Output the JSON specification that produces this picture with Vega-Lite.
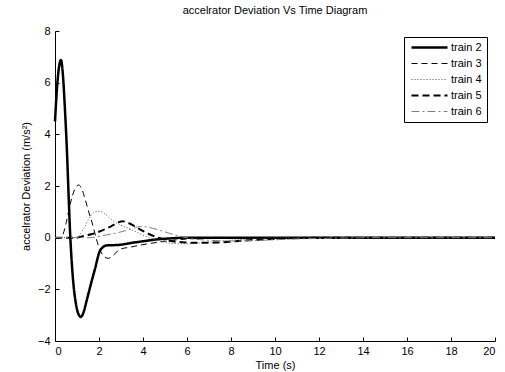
{
  "$schema": "https://vega.github.io/schema/vega-lite/v6.json",
  "width": 440,
  "height": 310,
  "autosize": {"type": "none"},
  "padding": {"left": 55, "top": 31, "right": 10, "bottom": 31},
  "background": "white",
  "title": {"text": "accelrator Deviation Vs Time Diagram", "fontSize": 11, "fontWeight": "normal", "font": "Liberation Sans", "color": "black", "offset": 9, "anchor": "middle"},
  "config": {
    "view": {"stroke": null},
    "axis": {"grid": false, "domainColor": "black", "tickColor": "black", "labelColor": "black", "titleColor": "black", "labelFont": "Liberation Sans", "titleFont": "Liberation Sans", "labelFontSize": 11, "titleFontSize": 11, "titleFontWeight": "normal", "tickSize": -4},
    "legend": {"fillColor": "white", "strokeColor": "black", "padding": 5, "labelFont": "Liberation Sans", "labelFontSize": 11, "labelColor": "black", "symbolType": "M-1.5,0H16.5", "symbolSize": 16, "labelOffset": 31, "rowPadding": 4}
  },
  "data": {"values": [
    {"s":"train 2","t":0,"v":4.5},{"s":"train 2","t":0.1,"v":5.9},{"s":"train 2","t":0.2,"v":6.7},{"s":"train 2","t":0.27,"v":6.88},{"s":"train 2","t":0.35,"v":6.4},{"s":"train 2","t":0.45,"v":5.0},{"s":"train 2","t":0.55,"v":3.2},{"s":"train 2","t":0.62,"v":1.6},{"s":"train 2","t":0.68,"v":0.3},{"s":"train 2","t":0.75,"v":-0.8},{"s":"train 2","t":0.85,"v":-1.9},{"s":"train 2","t":0.95,"v":-2.55},{"s":"train 2","t":1.05,"v":-2.92},{"s":"train 2","t":1.18,"v":-3.07},{"s":"train 2","t":1.3,"v":-2.88},{"s":"train 2","t":1.45,"v":-2.4},{"s":"train 2","t":1.6,"v":-1.9},{"s":"train 2","t":1.82,"v":-1.2},{"s":"train 2","t":2.05,"v":-0.5},{"s":"train 2","t":2.35,"v":-0.3},{"s":"train 2","t":2.9,"v":-0.28},{"s":"train 2","t":3.5,"v":-0.2},{"s":"train 2","t":4.0,"v":-0.14},{"s":"train 2","t":4.6,"v":-0.07},{"s":"train 2","t":5.2,"v":-0.03},{"s":"train 2","t":6,"v":0},{"s":"train 2","t":20,"v":0},
    {"s":"train 3","t":0,"v":0},{"s":"train 3","t":0.25,"v":0},{"s":"train 3","t":0.35,"v":0.1},{"s":"train 3","t":0.5,"v":0.55},{"s":"train 3","t":0.7,"v":1.33},{"s":"train 3","t":0.9,"v":1.88},{"s":"train 3","t":1.08,"v":2.04},{"s":"train 3","t":1.22,"v":1.88},{"s":"train 3","t":1.38,"v":1.46},{"s":"train 3","t":1.55,"v":0.95},{"s":"train 3","t":1.68,"v":0.6},{"s":"train 3","t":1.85,"v":0.05},{"s":"train 3","t":2.0,"v":-0.38},{"s":"train 3","t":2.2,"v":-0.7},{"s":"train 3","t":2.42,"v":-0.8},{"s":"train 3","t":2.65,"v":-0.68},{"s":"train 3","t":2.95,"v":-0.45},{"s":"train 3","t":3.4,"v":-0.37},{"s":"train 3","t":4.0,"v":-0.27},{"s":"train 3","t":4.9,"v":-0.15},{"s":"train 3","t":5.6,"v":-0.08},{"s":"train 3","t":6.5,"v":-0.03},{"s":"train 3","t":7.5,"v":0},{"s":"train 3","t":20,"v":0},
    {"s":"train 4","t":0,"v":0},{"s":"train 4","t":0.9,"v":0},{"s":"train 4","t":1.1,"v":0.08},{"s":"train 4","t":1.3,"v":0.35},{"s":"train 4","t":1.55,"v":0.75},{"s":"train 4","t":1.83,"v":1.0},{"s":"train 4","t":2.05,"v":1.02},{"s":"train 4","t":2.25,"v":0.93},{"s":"train 4","t":2.6,"v":0.68},{"s":"train 4","t":3.0,"v":0.48},{"s":"train 4","t":3.35,"v":0.36},{"s":"train 4","t":3.7,"v":0.22},{"s":"train 4","t":4.0,"v":0.1},{"s":"train 4","t":4.3,"v":0},{"s":"train 4","t":4.8,"v":-0.14},{"s":"train 4","t":5.3,"v":-0.22},{"s":"train 4","t":5.9,"v":-0.24},{"s":"train 4","t":6.6,"v":-0.2},{"s":"train 4","t":7.5,"v":-0.13},{"s":"train 4","t":8.5,"v":-0.07},{"s":"train 4","t":9.5,"v":-0.03},{"s":"train 4","t":10.5,"v":0},{"s":"train 4","t":20,"v":0},
    {"s":"train 5","t":0,"v":0},{"s":"train 5","t":1.0,"v":0},{"s":"train 5","t":1.3,"v":0.07},{"s":"train 5","t":1.65,"v":0.13},{"s":"train 5","t":2.0,"v":0.23},{"s":"train 5","t":2.5,"v":0.42},{"s":"train 5","t":2.9,"v":0.6},{"s":"train 5","t":3.05,"v":0.64},{"s":"train 5","t":3.3,"v":0.58},{"s":"train 5","t":3.7,"v":0.4},{"s":"train 5","t":4.2,"v":0.17},{"s":"train 5","t":4.7,"v":0},{"s":"train 5","t":5.2,"v":-0.12},{"s":"train 5","t":5.8,"v":-0.18},{"s":"train 5","t":6.5,"v":-0.2},{"s":"train 5","t":7.3,"v":-0.19},{"s":"train 5","t":8.2,"v":-0.14},{"s":"train 5","t":9.2,"v":-0.08},{"s":"train 5","t":10.2,"v":-0.04},{"s":"train 5","t":11.2,"v":-0.01},{"s":"train 5","t":12,"v":0},{"s":"train 5","t":20,"v":0},
    {"s":"train 6","t":0,"v":0},{"s":"train 6","t":1.6,"v":0},{"s":"train 6","t":1.85,"v":0.03},{"s":"train 6","t":2.3,"v":0.1},{"s":"train 6","t":2.8,"v":0.18},{"s":"train 6","t":3.2,"v":0.27},{"s":"train 6","t":3.55,"v":0.36},{"s":"train 6","t":3.86,"v":0.43},{"s":"train 6","t":4.2,"v":0.41},{"s":"train 6","t":4.7,"v":0.3},{"s":"train 6","t":5.2,"v":0.17},{"s":"train 6","t":5.8,"v":0.03},{"s":"train 6","t":6.3,"v":-0.05},{"s":"train 6","t":7.0,"v":-0.1},{"s":"train 6","t":8.0,"v":-0.13},{"s":"train 6","t":9.0,"v":-0.11},{"s":"train 6","t":10.0,"v":-0.08},{"s":"train 6","t":11.0,"v":-0.05},{"s":"train 6","t":12.0,"v":-0.03},{"s":"train 6","t":13.5,"v":-0.01},{"s":"train 6","t":14.5,"v":0},{"s":"train 6","t":20,"v":0}
  ]},
  "mark": {"type": "line", "interpolate": "monotone", "strokeCap": "butt"},
  "encoding": {
    "x": {"field": "t", "type": "quantitative", "scale": {"domain": [0, 20], "nice": false}, "axis": {"values": [0,2,4,6,8,10,12,14,16,18,20], "title": "Time (s)", "labelPadding": 8, "titlePadding": 3}},
    "y": {"field": "v", "type": "quantitative", "scale": {"domain": [-4, 8], "nice": false}, "axis": {"values": [-4,-2,0,2,4,6,8], "title": "accelrator Deviation (m/s²)", "labelPadding": 9, "titlePadding": 6}},
    "color": {"field": "s", "type": "nominal", "scale": {"domain": ["train 2","train 3","train 4","train 5","train 6"], "range": ["#000000","#000000","#555555","#000000","#808080"]}, "legend": {"title": null, "orient": "none", "legendX": 349, "legendY": 6}},
    "strokeDash": {"field": "s", "type": "nominal", "scale": {"domain": ["train 2","train 3","train 4","train 5","train 6"], "range": [[1,0],[6,4],[1,2],[7,4],[8,3,2,3]]}, "legend": {"title": null, "orient": "none", "legendX": 349, "legendY": 6}},
    "strokeWidth": {"field": "s", "type": "nominal", "scale": {"type": "ordinal", "domain": ["train 2","train 3","train 4","train 5","train 6"], "range": [2.5,1,1,2,1]}, "legend": {"title": null, "orient": "none", "legendX": 349, "legendY": 6}}
  }
}
